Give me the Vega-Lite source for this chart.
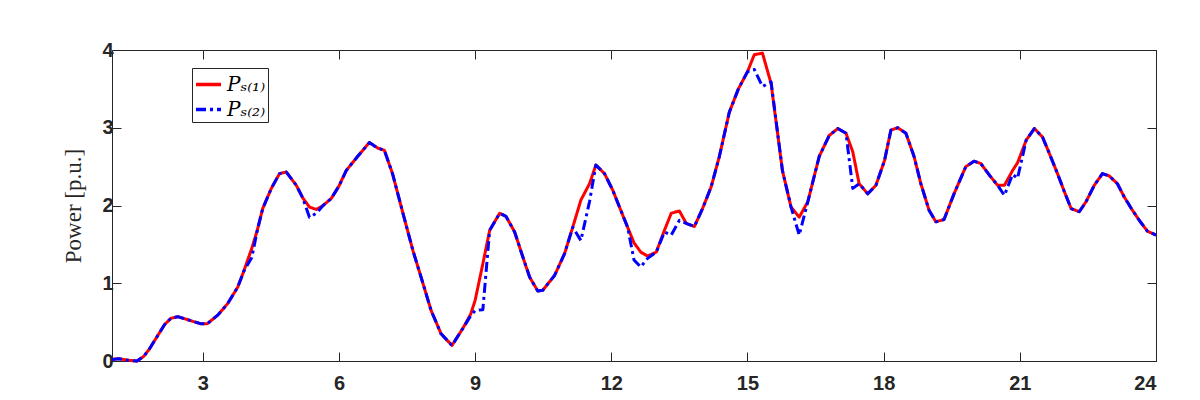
{
  "$schema": "https://vega.github.io/schema/vega-lite/v6.json",
  "background": "white",
  "width": 1044,
  "height": 311,
  "autosize": {"type": "none"},
  "padding": {"left": 112, "top": 50, "right": 44, "bottom": 39},
  "data": {
    "values": [
      {"h": 1.00, "ps1": 0.02, "ps2": 0.02},
      {"h": 1.15, "ps1": 0.03, "ps2": 0.03},
      {"h": 1.35, "ps1": 0.01, "ps2": 0.01},
      {"h": 1.55, "ps1": 0.00, "ps2": 0.00},
      {"h": 1.70, "ps1": 0.06, "ps2": 0.06},
      {"h": 1.83, "ps1": 0.16, "ps2": 0.16},
      {"h": 2.00, "ps1": 0.32, "ps2": 0.32},
      {"h": 2.16, "ps1": 0.47, "ps2": 0.47},
      {"h": 2.30, "ps1": 0.55, "ps2": 0.55},
      {"h": 2.45, "ps1": 0.57, "ps2": 0.57},
      {"h": 2.62, "ps1": 0.54, "ps2": 0.54},
      {"h": 2.78, "ps1": 0.51, "ps2": 0.51},
      {"h": 2.95, "ps1": 0.48, "ps2": 0.48},
      {"h": 3.10, "ps1": 0.48, "ps2": 0.48},
      {"h": 3.33, "ps1": 0.59, "ps2": 0.59},
      {"h": 3.55, "ps1": 0.74, "ps2": 0.74},
      {"h": 3.77, "ps1": 0.95, "ps2": 0.95},
      {"h": 3.90, "ps1": 1.15, "ps2": 1.15},
      {"h": 4.08, "ps1": 1.45, "ps2": 1.33},
      {"h": 4.20, "ps1": 1.68, "ps2": 1.68},
      {"h": 4.32, "ps1": 1.96, "ps2": 1.96},
      {"h": 4.51, "ps1": 2.22, "ps2": 2.22},
      {"h": 4.69, "ps1": 2.41, "ps2": 2.41},
      {"h": 4.84, "ps1": 2.43, "ps2": 2.43},
      {"h": 5.06, "ps1": 2.26, "ps2": 2.26},
      {"h": 5.20, "ps1": 2.10, "ps2": 2.10},
      {"h": 5.35, "ps1": 1.98, "ps2": 1.85},
      {"h": 5.50, "ps1": 1.95, "ps2": 1.90},
      {"h": 5.65, "ps1": 2.00, "ps2": 2.00},
      {"h": 5.83, "ps1": 2.09, "ps2": 2.09},
      {"h": 6.00, "ps1": 2.25, "ps2": 2.25},
      {"h": 6.16, "ps1": 2.45, "ps2": 2.45},
      {"h": 6.41, "ps1": 2.63, "ps2": 2.63},
      {"h": 6.67, "ps1": 2.81, "ps2": 2.81},
      {"h": 6.85, "ps1": 2.74, "ps2": 2.74},
      {"h": 7.00, "ps1": 2.71, "ps2": 2.71},
      {"h": 7.18, "ps1": 2.41, "ps2": 2.41},
      {"h": 7.41, "ps1": 1.90, "ps2": 1.90},
      {"h": 7.63, "ps1": 1.42, "ps2": 1.42},
      {"h": 7.85, "ps1": 1.00, "ps2": 1.00},
      {"h": 8.03, "ps1": 0.65, "ps2": 0.65},
      {"h": 8.25, "ps1": 0.35, "ps2": 0.35},
      {"h": 8.49, "ps1": 0.20, "ps2": 0.20},
      {"h": 8.73, "ps1": 0.42, "ps2": 0.42},
      {"h": 8.90, "ps1": 0.60, "ps2": 0.58},
      {"h": 9.00, "ps1": 0.78, "ps2": 0.65},
      {"h": 9.17, "ps1": 1.25, "ps2": 0.66},
      {"h": 9.32, "ps1": 1.68, "ps2": 1.68},
      {"h": 9.54, "ps1": 1.90, "ps2": 1.90},
      {"h": 9.68, "ps1": 1.86, "ps2": 1.86},
      {"h": 9.87, "ps1": 1.66, "ps2": 1.66},
      {"h": 10.05, "ps1": 1.34, "ps2": 1.34},
      {"h": 10.20, "ps1": 1.08, "ps2": 1.08},
      {"h": 10.38, "ps1": 0.90, "ps2": 0.90},
      {"h": 10.49, "ps1": 0.91, "ps2": 0.91},
      {"h": 10.75, "ps1": 1.10, "ps2": 1.10},
      {"h": 10.97, "ps1": 1.38, "ps2": 1.38},
      {"h": 11.15, "ps1": 1.72, "ps2": 1.72},
      {"h": 11.33, "ps1": 2.07, "ps2": 1.55},
      {"h": 11.52, "ps1": 2.28, "ps2": 2.05},
      {"h": 11.66, "ps1": 2.52, "ps2": 2.52},
      {"h": 11.85, "ps1": 2.41, "ps2": 2.41},
      {"h": 12.03, "ps1": 2.20, "ps2": 2.20},
      {"h": 12.18, "ps1": 1.98, "ps2": 1.98},
      {"h": 12.36, "ps1": 1.72, "ps2": 1.72},
      {"h": 12.50, "ps1": 1.52, "ps2": 1.30},
      {"h": 12.65, "ps1": 1.40, "ps2": 1.21},
      {"h": 12.80, "ps1": 1.35, "ps2": 1.32},
      {"h": 12.99, "ps1": 1.40, "ps2": 1.40},
      {"h": 13.17, "ps1": 1.68, "ps2": 1.66},
      {"h": 13.32, "ps1": 1.90, "ps2": 1.62},
      {"h": 13.50, "ps1": 1.93, "ps2": 1.81},
      {"h": 13.65, "ps1": 1.77, "ps2": 1.77},
      {"h": 13.83, "ps1": 1.73, "ps2": 1.73},
      {"h": 14.01, "ps1": 1.96, "ps2": 1.96},
      {"h": 14.20, "ps1": 2.24, "ps2": 2.24},
      {"h": 14.38, "ps1": 2.63, "ps2": 2.63},
      {"h": 14.60, "ps1": 3.20, "ps2": 3.20},
      {"h": 14.80, "ps1": 3.50, "ps2": 3.50},
      {"h": 15.00, "ps1": 3.72, "ps2": 3.72},
      {"h": 15.15, "ps1": 3.94, "ps2": 3.75},
      {"h": 15.33, "ps1": 3.96, "ps2": 3.53},
      {"h": 15.52, "ps1": 3.57, "ps2": 3.59},
      {"h": 15.77, "ps1": 2.45, "ps2": 2.45},
      {"h": 15.96, "ps1": 1.98, "ps2": 1.98},
      {"h": 16.14, "ps1": 1.85, "ps2": 1.62},
      {"h": 16.33, "ps1": 2.05, "ps2": 2.05},
      {"h": 16.58, "ps1": 2.63, "ps2": 2.63},
      {"h": 16.80, "ps1": 2.90, "ps2": 2.90},
      {"h": 16.99, "ps1": 2.99, "ps2": 2.99},
      {"h": 17.17, "ps1": 2.93, "ps2": 2.93},
      {"h": 17.32, "ps1": 2.69, "ps2": 2.22},
      {"h": 17.46, "ps1": 2.28, "ps2": 2.28},
      {"h": 17.65, "ps1": 2.15, "ps2": 2.15},
      {"h": 17.83, "ps1": 2.26, "ps2": 2.26},
      {"h": 18.02, "ps1": 2.58, "ps2": 2.58},
      {"h": 18.16, "ps1": 2.97, "ps2": 2.97},
      {"h": 18.31, "ps1": 3.00, "ps2": 3.00},
      {"h": 18.49, "ps1": 2.93, "ps2": 2.93},
      {"h": 18.67, "ps1": 2.63, "ps2": 2.63},
      {"h": 18.82, "ps1": 2.28, "ps2": 2.28},
      {"h": 19.00, "ps1": 1.94, "ps2": 1.94},
      {"h": 19.15, "ps1": 1.79, "ps2": 1.79},
      {"h": 19.33, "ps1": 1.82, "ps2": 1.82},
      {"h": 19.55, "ps1": 2.15, "ps2": 2.15},
      {"h": 19.81, "ps1": 2.50, "ps2": 2.50},
      {"h": 19.99, "ps1": 2.57, "ps2": 2.57},
      {"h": 20.14, "ps1": 2.54, "ps2": 2.54},
      {"h": 20.33, "ps1": 2.39, "ps2": 2.39},
      {"h": 20.51, "ps1": 2.26, "ps2": 2.26},
      {"h": 20.66, "ps1": 2.26, "ps2": 2.13},
      {"h": 20.84, "ps1": 2.45, "ps2": 2.40},
      {"h": 20.95, "ps1": 2.55, "ps2": 2.35},
      {"h": 21.14, "ps1": 2.84, "ps2": 2.84},
      {"h": 21.32, "ps1": 2.99, "ps2": 2.99},
      {"h": 21.50, "ps1": 2.88, "ps2": 2.88},
      {"h": 21.65, "ps1": 2.67, "ps2": 2.67},
      {"h": 21.83, "ps1": 2.41, "ps2": 2.41},
      {"h": 21.98, "ps1": 2.18, "ps2": 2.18},
      {"h": 22.13, "ps1": 1.96, "ps2": 1.96},
      {"h": 22.31, "ps1": 1.92, "ps2": 1.92},
      {"h": 22.46, "ps1": 2.05, "ps2": 2.05},
      {"h": 22.64, "ps1": 2.26, "ps2": 2.26},
      {"h": 22.82, "ps1": 2.41, "ps2": 2.41},
      {"h": 22.97, "ps1": 2.38, "ps2": 2.38},
      {"h": 23.15, "ps1": 2.28, "ps2": 2.28},
      {"h": 23.30, "ps1": 2.11, "ps2": 2.11},
      {"h": 23.48, "ps1": 1.94, "ps2": 1.94},
      {"h": 23.63, "ps1": 1.81, "ps2": 1.81},
      {"h": 23.81, "ps1": 1.67, "ps2": 1.67},
      {"h": 24.00, "ps1": 1.62, "ps2": 1.62}
    ]
  },
  "transform": [
    {"fold": ["ps1", "ps2"], "as": ["series", "power"]}
  ],
  "layer": [
    {
      "mark": {"type": "line", "opacity": 0},
      "encoding": {
        "x": {
          "field": "h",
          "type": "quantitative",
          "scale": {"domain": [1, 24], "nice": false},
          "axis": {"orient": "top", "values": [3, 6, 9, 12, 15, 18, 21, 24], "labels": false, "grid": false, "title": null}
        },
        "y": {
          "field": "power",
          "type": "quantitative",
          "scale": {"domain": [0, 4], "nice": false},
          "axis": {"orient": "right", "values": [0, 1, 2, 3, 4], "labels": false, "grid": false, "title": null}
        }
      }
    },
    {
      "mark": {"type": "line", "strokeWidth": 3, "strokeJoin": "round"},
      "encoding": {
        "x": {
          "field": "h",
          "type": "quantitative",
          "scale": {"domain": [1, 24], "nice": false},
          "axis": {"values": [3, 6, 9, 12, 15, 18, 21, 24], "title": null}
        },
        "y": {
          "field": "power",
          "type": "quantitative",
          "scale": {"domain": [0, 4], "nice": false},
          "axis": {
            "values": [0, 1, 2, 3, 4],
            "title": "Power [p.u.]",
            "titleFont": "Liberation Serif",
            "titleFontWeight": "normal",
            "titleFontSize": 23,
            "titlePadding": 16
          }
        },
        "color": {
          "field": "series",
          "type": "nominal",
          "scale": {"domain": ["ps1", "ps2"], "range": ["#ff0000", "#0000ff"]},
          "legend": {
            "title": null,
            "orient": "none",
            "legendX": 80,
            "legendY": 18,
            "labelExpr": "datum.value === 'ps1' ? 'Pₛ₍₁₎' : 'Pₛ₍₂₎'"
          }
        },
        "strokeDash": {
          "field": "series",
          "type": "nominal",
          "scale": {"domain": ["ps1", "ps2"], "range": [[1, 0], [10, 4, 3, 4]]},
          "legend": {
            "title": null,
            "orient": "none",
            "legendX": 80,
            "legendY": 18,
            "labelExpr": "datum.value === 'ps1' ? 'Pₛ₍₁₎' : 'Pₛ₍₂₎'"
          }
        }
      }
    }
  ],
  "resolve": {"scale": {"x": "independent", "y": "independent"}},
  "config": {
    "view": {"stroke": "#262626", "strokeWidth": 1},
    "axis": {
      "domain": false,
      "tickColor": "#262626",
      "tickSize": -9,
      "tickWidth": 1,
      "gridColor": "#dfdfdf",
      "gridWidth": 1,
      "labelFont": "Liberation Sans",
      "labelFontWeight": "bold",
      "labelFontSize": 20,
      "labelColor": "#262626",
      "titleColor": "#262626"
    },
    "axisX": {"labelPadding": 21},
    "axisY": {"labelPadding": 8},
    "legend": {
      "strokeColor": "#262626",
      "fillColor": "white",
      "padding": 2,
      "symbolType": "stroke",
      "symbolSize": 625,
      "symbolStrokeWidth": 3.5,
      "labelFont": "DejaVu Serif",
      "labelFontStyle": "italic",
      "labelFontSize": 20,
      "labelColor": "#000000",
      "rowPadding": 0,
      "labelOffset": 4
    }
  }
}
